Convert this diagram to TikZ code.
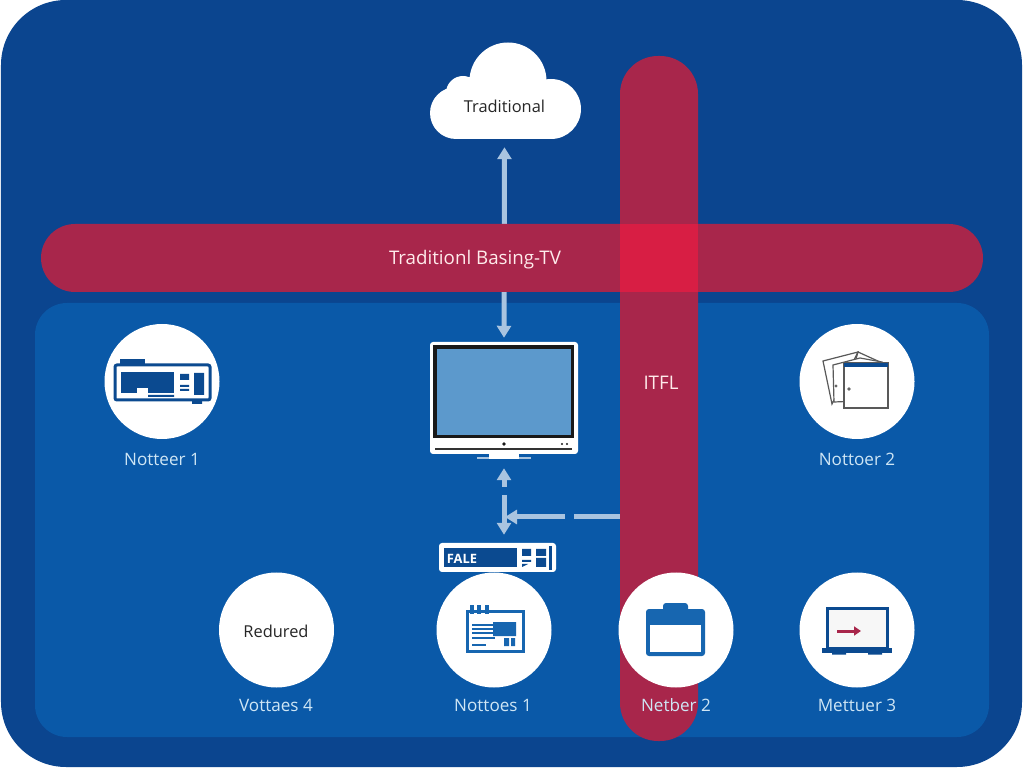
\documentclass[tikz,border=0pt]{standalone}
\usepackage{fontspec}
\setmainfont{Open Sans}
\usetikzlibrary{arrows.meta}
\newlength{\pxu}
\setlength{\pxu}{0.03cm}
\definecolor{outerblue}{HTML}{0B458F}
\definecolor{panelblue}{HTML}{0A59A8}
\definecolor{bandred}{HTML}{A8264B}
\definecolor{crossred}{HTML}{D81E44}
\definecolor{linkblue}{HTML}{A9C4E0}
\definecolor{capblue}{HTML}{CFE6F5}
\definecolor{screenblue}{HTML}{5C99CC}
\definecolor{icondark}{HTML}{0B4A90}
\definecolor{iconblue}{HTML}{1766B0}
\begin{document}
\begin{tikzpicture}
            [x=\pxu, y=-\pxu, >={Triangle[width=0.42cm, length=0.36cm]},
            band/.style={fill=bandred, inner sep=0pt, rounded corners=38\pxu},
            disc/.style={circle, fill=white, minimum size=115\pxu, inner sep=0pt},
            caption/.style={text=capblue, inner sep=0pt, font=\fontsize{14.6}{16}\selectfont},
            dark/.style={text=black!85, inner sep=0pt, font=\fontsize{14}{16}\selectfont},
            link/.style={linkblue, line width=5\pxu},
            idark/.style={icondark, line width=3\pxu},
            iblue/.style={iconblue, line width=3\pxu},
            sheet/.style={draw=black!65, line width=1.2\pxu, fill=white}]

            \useasboundingbox (0,0) rectangle (1024,768);
            \fill[white] (0,0) rectangle (1024,768);
            \fill[outerblue, rounded corners=65\pxu] (1,0) rectangle (1022,767);
            \fill[panelblue, rounded corners=32\pxu] (35,303) rectangle (989,737);

            % cloud
            \fill[white] (508,81) circle (38.5) (463,93) circle (17) (456,113) circle (26)
                (551,109) circle (30);
            \fill[white] (456,95) rectangle (551,139);
            \node[dark, minimum width=150\pxu, minimum height=66\pxu] (cloud) at (504.5,106) {Traditional};

            % monitor
            \node[fill=white, rounded corners=3\pxu, minimum width=148\pxu, minimum height=112\pxu, inner sep=0pt] (tv) at (504,398) {};
            \fill[black!90] (433,345) rectangle (574,438);
            \fill[screenblue] (437,349) rectangle (571,435);
            \fill[black!90] (504,444) circle (1.8) (562,444) circle (1.2) (567,444) circle (1.2);
            \draw[black!80, line width=1.2\pxu] (435,449) -- (572,449);
            \fill[linkblue] (477,457) rectangle (531,459);
            \fill[white] (489,454) rectangle (519,459.5);

            % file box
            \node[fill=white, rounded corners=3\pxu, minimum width=117\pxu, minimum height=29\pxu, inner sep=0pt] (fale) at (497.5,557.5) {};
            \fill[icondark] (444,548) rectangle (517,567);
            \node[text=white, inner sep=0pt, font=\fontsize{11}{13}\selectfont\bfseries] (faletext) at (462,559) {FALE};
            \fill[icondark] (522,549) rectangle (531,556) (536,549) rectangle (546,556) (536,558) rectangle (546,567);
            \fill[icondark] (522,560) rectangle (531,562) (522,564) -- (528,564) -- (522,567) -- cycle;
            \fill[icondark] (549,546) rectangle (552,570);

            % links
            \coordinate (forkup) at (504,487);
            \coordinate (forkdown) at (504,495);
            \coordinate (sideend) at (620,517);
            \coordinate (sidegap) at (574,517);
            \coordinate (sidestart) at (565,517);
            \coordinate (sidetip) at (505,517);
            \draw[link, <->, shorten <=8\pxu, shorten >=4\pxu] (cloud.south) -- (tv.north);
            \draw[link, ->, shorten >=14\pxu] (forkup) -- (tv.south);
            \draw[link, ->, shorten >=8\pxu] (forkdown) -- (fale.north -| forkdown);
            \draw[link] (sideend) -- (sidegap);
            \draw[link, ->] (sidestart) -- (sidetip);

            % bands
            \node[band, minimum width=78\pxu, minimum height=685\pxu] (vband) at (659,398.5) {};
            \node[band, rounded corners=34\pxu, minimum width=942\pxu, minimum height=68\pxu] (hband) at (512,258) {};
            \fill[crossred] (620,224) rectangle (698,292);
            \node[text=white!92!red, inner sep=0pt, font=\fontsize{16}{18}\selectfont] (hlabel) at (475,260) {Traditionl Basing-TV};
            \node[text=white!92!red, inner sep=0pt, font=\fontsize{16}{18}\selectfont] (vlabel) at (661,383) {ITFL};

            % discs
            \node[disc] (n1) at (162,381.5) {};
            \node[disc] (n2) at (857,381.5) {};
            \node[disc] (v4) at (276.5,630) {};
            \node[disc] (m1) at (494,630) {};
            \node[disc] (m2) at (676,630) {};
            \node[disc] (m3) at (857,630) {};
            \node[dark] (redured) at (276,631) {Redured};

            \node[caption] (cn1) at (162,459) {Notteer 1};
            \node[caption] (cn2) at (857,459) {Nottoer 2};
            \node[caption] (cv4) at (276,705) {Vottaes 4};
            \node[caption] (cm1) at (493,705) {Nottoes 1};
            \node[caption] (cm2) at (676,705) {Netber 2};
            \node[caption] (cm3) at (857,705) {Mettuer 3};

            % icon of disc n1
            \fill[icondark] (120,359) rectangle (145,366);
            \draw[idark, rounded corners=2\pxu] (115,365) rectangle (210,400);
            \fill[icondark] (121,372) rectangle (174,393);
            \fill[white] (137,388) rectangle (148,394);
            \fill[icondark] (180,374) rectangle (189,380) (194,373) rectangle (204,395);
            \fill[icondark] (180,385) rectangle (189,387) (180,389) rectangle (189,391);
            \fill[icondark] (148,395) rectangle (174,397) (192,401) rectangle (202,404);

            % icon of disc n2
            \draw[sheet] (823,361) -- (858,352) -- (832,404) -- cycle;
            \draw[sheet] (858,352) -- (880,362) -- (880,380) -- (850,380) -- cycle;
            \draw[sheet] (833,365) -- (860,358) -- (882,362) -- (882,400) -- (834,402) -- cycle;
            \fill[black!60] (836,386) circle (1.6);
            \draw[sheet] (844,363) rectangle (888,408);
            \fill[icondark] (844,363) rectangle (888,367);
            \fill[black!60] (849,389) circle (1.8);

            % icon of disc m1
            \draw[iblue] (467,611) rectangle (523,651);
            \fill[iconblue] (493,622) rectangle (516,636) (504,638) rectangle (509,646) (511,638) rectangle (515,646);
            \draw[iconblue, line width=1.5\pxu] (472,625) -- (493,625) (472,629) -- (493,629) (472,633) -- (493,633) (472,638) -- (495,638) (472,645) -- (486,645);
            \draw[iconblue, line width=3.5\pxu] (472,605) -- (472,614) (479,605) -- (479,614) (487,605) -- (487,614);

            % icon of disc m2
            \fill[iconblue, rounded corners=3\pxu] (646,609) rectangle (705,656);
            \fill[iconblue, rounded corners=3\pxu] (663,603) rectangle (688,612);
            \fill[white] (650,625) rectangle (701,652);

            % icon of disc m3
            \fill[black!3] (826,607) rectangle (888,648);
            \draw[idark] (827.5,608.5) rectangle (887,648);
            \fill[icondark] (822,648) rectangle (892,653);
            \fill[icondark] (832,653) rectangle (846,654.5) (868,653) rectangle (882,654.5);
            \draw[bandred, line width=3\pxu, -{Triangle[width=0.27cm, length=0.21cm]}] (837,631) -- (861,631);

        \end{tikzpicture}
\end{document}
